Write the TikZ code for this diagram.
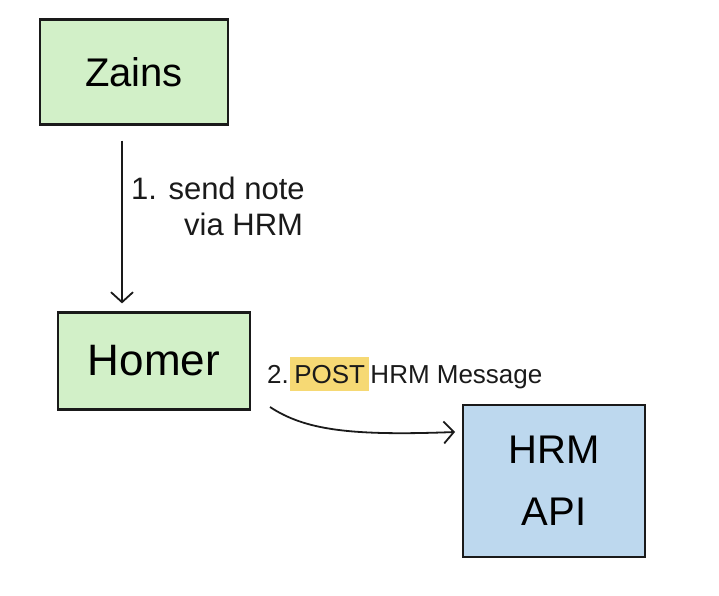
\documentclass[tikz,border=0pt]{standalone}
\usepackage{fontspec}
\setmainfont{Liberation Sans}
\usetikzlibrary{arrows.meta}
\definecolor{mint}{HTML}{D2F0C8}
\definecolor{skyblue}{HTML}{BDD8EE}
\definecolor{marker}{HTML}{F3CC45}
\definecolor{ink}{HTML}{1A1A1A}

\tikzset{
  sketchbox/.style={draw=ink, line width=2.2pt, minimum width=#1, inner sep=0pt},
  flow/.style={draw=ink, line width=1.8pt, -{Straight Barb[length=10pt,width=22pt]}},
  note/.style={font=\fontsize{26}{32}\selectfont, text=ink}
}

\begin{document}
\begin{tikzpicture}[x=1pt, y=-1pt]

  % === Canvas (same proportions as the sketch) ===
  \useasboundingbox (0,0) rectangle (719,596);

  % === Boxes ===
  \node[sketchbox=188pt, fill=mint, minimum height=105pt,
        font=\fontsize{40}{44}\selectfont] (zains) at (134,72) {Zains};
  \node[sketchbox=192pt, fill=mint, minimum height=97pt,
        font=\fontsize{44}{48}\selectfont] (homer) at (154,361) {Homer};
  \node[sketchbox=182pt, fill=skyblue, minimum height=152pt, align=center,
        font=\fontsize{40}{62}\selectfont] (api) at (554,481) {HRM\\API};

  % === Step 1: Zains -> Homer ===
  \coordinate (a1) at (122,0);
  \draw[flow, shorten <=15pt, shorten >=8pt] (zains.south -| a1) -- (homer.north -| a1);
  \node[note, font=\fontsize{31}{36}\selectfont, align=left, anchor=west, inner sep=0pt]
    (step1) at (131,206) {1. send note\\ \hspace*{53pt}via HRM};

  % === Step 2: Homer -> HRM API ===
  \coordinate (c2s) at (270,407);
  \coordinate (c2e) at (455,432);
  \draw[flow] (c2s) .. controls (305,430) and (350,436) .. (c2e);

  % label, with POST marked in yellow
  \node[note, anchor=base west, inner sep=1pt] (num) at (266,383) {2.};
  \node[note, anchor=base west, inner xsep=4pt, inner ysep=8pt,
        fill=marker, fill opacity=0.75, text opacity=1] (post) at (num.base east) {POST};
  \node[note, anchor=base west, inner sep=1pt] (msg) at (post.base east) {HRM Message};

\end{tikzpicture}
\end{document}
